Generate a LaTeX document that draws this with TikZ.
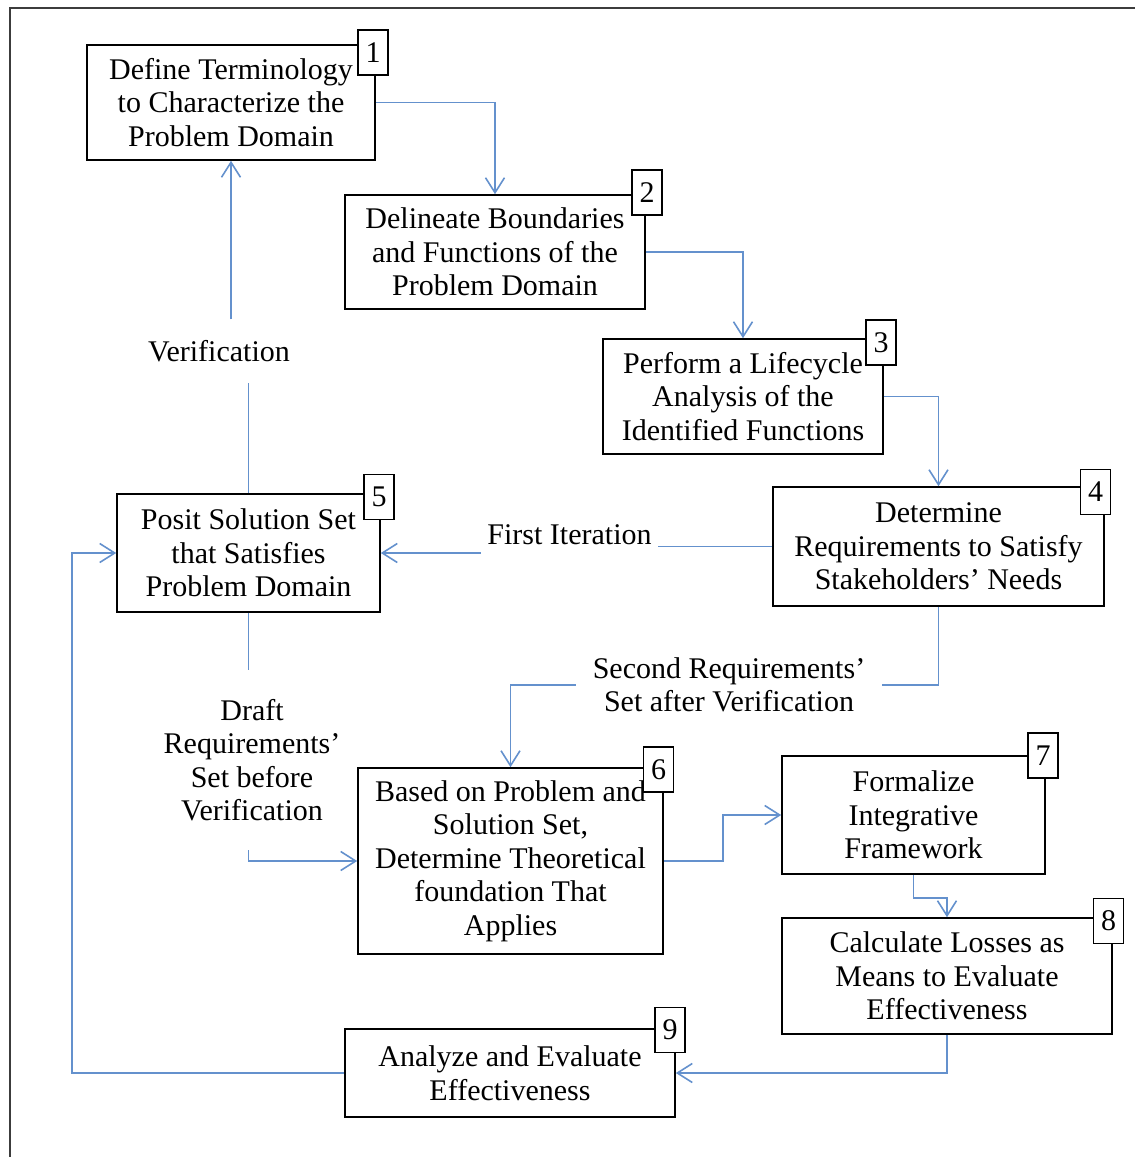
\documentclass[tikz,border=0pt]{standalone}
\usepackage{fontspec}
\setmainfont{Liberation Serif}
\usepackage{xcolor}
\usetikzlibrary{arrows.meta}
\usetikzlibrary{positioning}
\usetikzlibrary{calc}
\definecolor{linkblue}{RGB}{100,145,205}
\definecolor{framegray}{RGB}{60,60,60}
\tikzset{
  stepbox/.style={draw=black, line width=1.6pt, fill=white, align=center, inner sep=2pt,
    font=\fontsize{30}{33.5}\selectfont},
  badge/.style={draw=black, line width=1.6pt, fill=white, minimum width=30pt, minimum height=45pt,
    inner sep=0pt, font=\fontsize{30}{33.5}\selectfont},
  lab/.style={align=center, inner sep=0pt, font=\fontsize{30}{33.5}\selectfont},
  link/.style={draw=linkblue, line width=1.8pt},
  flow/.style={link, -{Straight Barb[length=15pt,width=19pt,line width=1.6pt]}}
}
\begin{document}
\begin{tikzpicture}[x=1pt, y=-1pt]
			\useasboundingbox (0,0) rectangle (1135,1157);
			% draw frame
			\draw[framegray, line width=2pt] (10,1160) -- (10,8) -- (1140,8);
			% draw boxes
			\node[stepbox, minimum width=288pt, minimum height=115pt] (n1) at (231,102.5) {Define Terminology\\to Characterize the\\Problem Domain};
			\node[stepbox, minimum width=300pt, minimum height=114pt] (n2) at (495,252) {Delineate Boundaries\\and Functions of the\\Problem Domain};
			\node[stepbox, minimum width=280pt, minimum height=115pt] (n3) at (743,396.5) {Perform a Lifecycle\\Analysis of the\\Identified Functions};
			\node[stepbox, minimum width=331pt, minimum height=119pt] (n4) at (938.5,546.5) {Determine\\Requirements to Satisfy\\Stakeholders’ Needs};
			\node[stepbox, minimum width=263pt, minimum height=118pt] (n5) at (248.5,553) {Posit Solution Set\\that Satisfies\\Problem Domain};
			\node[stepbox, minimum width=305pt, minimum height=186pt] (n6) at (510.5,861) {Based on Problem and\\Solution Set,\\Determine Theoretical\\foundation That\\Applies};
			\node[stepbox, minimum width=263pt, minimum height=118pt] (n7) at (913.5,815) {Formalize\\Integrative\\Framework};
			\node[stepbox, minimum width=330pt, minimum height=116pt] (n8) at (947,976) {Calculate Losses as\\Means to Evaluate\\Effectiveness};
			\node[stepbox, minimum width=330pt, minimum height=88pt] (n9) at (510,1073) {Analyze and Evaluate\\Effectiveness};
			% add numbers
			\node[badge] (b1) at (373,52.5) {1};
			\node[badge] (b2) at (647,192.5) {2};
			\node[badge] (b3) at (881,342.5) {3};
			\node[badge] (b4) at (1095.5,492) {4};
			\node[badge] (b5) at (379,497) {5};
			\node[badge] (b6) at (658.5,769.5) {6};
			\node[badge] (b7) at (1043,755.5) {7};
			\node[badge] (b8) at (1108.5,921) {8};
			\node[badge] (b9) at (670,1030) {9};
			% add labels
			\node[lab, minimum width=177pt, minimum height=40pt] (it1) at (569.5,535) {First Iteration};
			\node[lab, minimum width=180pt, minimum height=63pt] (ver) at (219,351) {Verification};
			\node[lab, minimum width=306pt, minimum height=80pt] (it2) at (729,685) {Second Requirements’\\Set after Verification};
			\node[lab, minimum width=190pt, minimum height=180pt] (dr) at (252,760) {Draft\\Requirements’\\Set before\\Verification};
			% add arrows
			\draw[flow] (n1.east) -| (n2.north);
			\draw[flow] (n2.east) -| (n3.north);
			\draw[flow] (n3.east) -| (n4.north);
			\draw[link] (n4.west) -- (n4.west -| it1.east);
			\draw[flow] (it1.west |- n5.east) -- (n5.east);
			\draw[link] (n5.north) -- (n5.north |- ver.south);
			\draw[flow] (n1.south |- ver.north) -- (n1.south);
			\draw[link] (n5.south) -- (n5.south |- dr.north);
			\draw[flow] (n5.south |- dr.south) |- (n6.west);
			\draw[link] (n4.south) |- (it2.east);
			\draw[flow] (it2.west) -| (n6.north);
			\draw[flow] (n6.east) -- ++(59,0) |- (n7.west);
			\draw[flow] (n7.south) -- ++(0,23) -| (n8.north);
			\draw[flow] (n8.south) |- (n9.east);
			\draw[flow] (n9.west) -| (72,553) -- (n5.west);
		\end{tikzpicture}
\end{document}
